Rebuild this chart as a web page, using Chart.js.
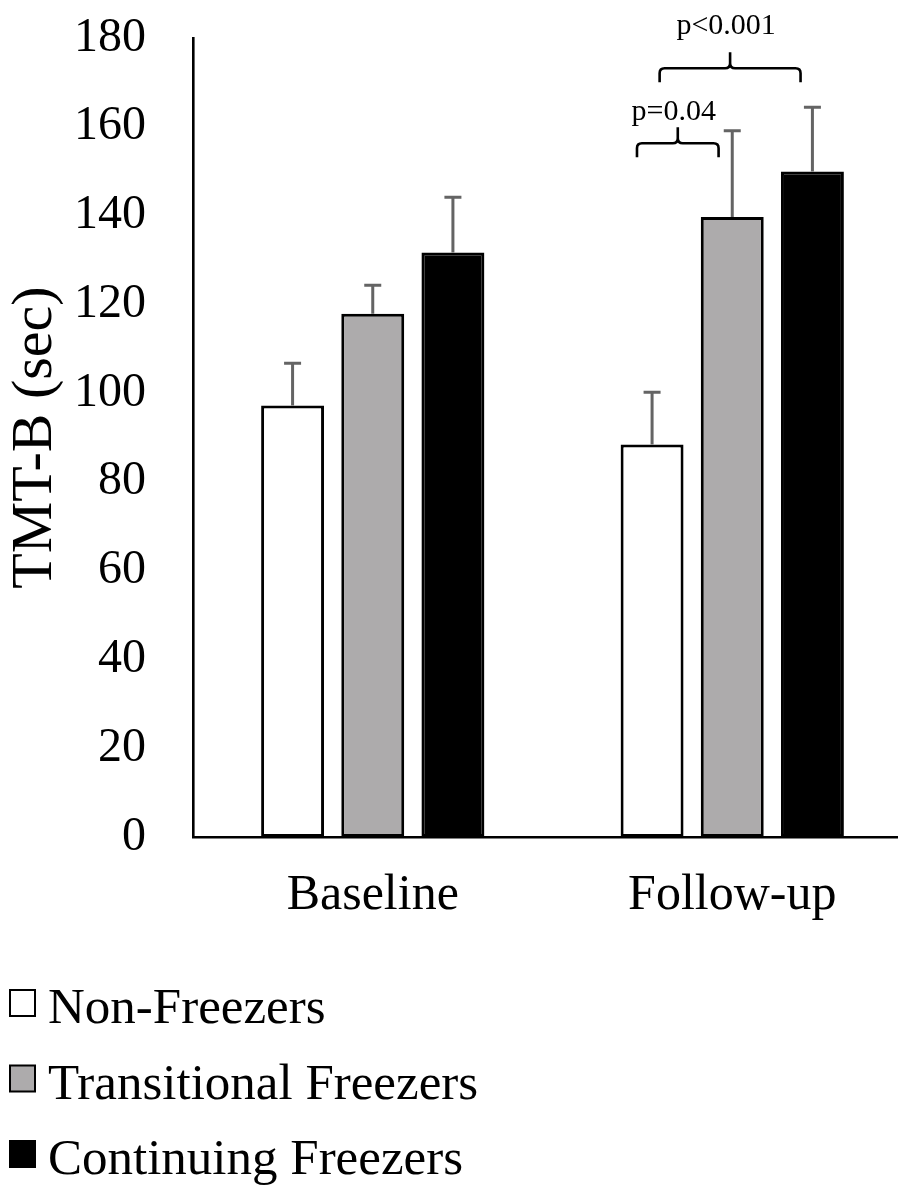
<!DOCTYPE html>
<html>
<head>
<meta charset="utf-8">
<script src="https://cdn.jsdelivr.net/npm/chart.js@4"></script>
<style>
  html, body { margin: 0; padding: 0; background: #ffffff; overflow: hidden; }
  #wrap { position: absolute; left: 0; top: 0; width: 920px; height: 1186px; }
</style>
</head>
<body>
<div id="wrap"><canvas id="c"></canvas></div>
<script>
// ---- data ----
const categories = ['Baseline', 'Follow-up'];
const seriesNames = ['Non-Freezers', 'Transitional Freezers', 'Continuing Freezers'];
const nonFreezers = [97.2, 88.4];
const transitionalFreezers = [117.9, 139.7];
const continuingFreezers = [131.7, 149.9];
const nonFreezersErr = [9.5, 11.8];
const transitionalFreezersErr = [6.4, 19.4];
const continuingFreezersErr = [12.4, 14.5];
const yTicks = [0, 20, 40, 60, 80, 100, 120, 140, 160, 180];
const yTitle = 'TMT-B (sec)';
// significance brackets: category-axis span, bracket level (sec), label
const bracketLabels = ['p=0.04', 'p<0.001'];
const bracketStart = [0.735, 0.798];
const bracketEnd = [0.962, 1.19];
const bracketLevel = [156.3, 173.2];

// ---- styles ----
const SERIF = "'Liberation Serif', 'Times New Roman', serif";
const fills = ['#ffffff', '#adabac', '#000000'];
const errs = [nonFreezersErr, transitionalFreezersErr, continuingFreezersErr];

const errorBarPlugin = {
  id: 'errorBars',
  afterDatasetsDraw(chart) {
    const ctx = chart.ctx;
    const y = chart.scales.y;
    ctx.save();
    ctx.strokeStyle = '#646464';
    ctx.lineWidth = 3;
    chart.data.datasets.forEach((ds, i) => {
      const meta = chart.getDatasetMeta(i);
      meta.data.forEach((bar, j) => {
        const v = ds.data[j];
        const e = errs[i][j];
        const yTop = y.getPixelForValue(v);
        const yE = y.getPixelForValue(v + e);
        ctx.beginPath();
        ctx.moveTo(bar.x, yTop);
        ctx.lineTo(bar.x, yE);
        ctx.moveTo(bar.x - 8.5, yE);
        ctx.lineTo(bar.x + 8.5, yE);
        ctx.stroke();
      });
    });
    ctx.restore();
  }
};

const bracketPlugin = {
  id: 'brackets',
  afterDraw(chart) {
    const ctx = chart.ctx;
    const xs = chart.scales.x, ys = chart.scales.y;
    ctx.save();
    ctx.strokeStyle = '#000';
    ctx.lineWidth = 2.6;
    ctx.lineCap = 'butt';
    for (let k = 0; k < bracketLabels.length; k++) {
      const x1 = xs.getPixelForValue(bracketStart[k]);
      const x2 = xs.getPixelForValue(bracketEnd[k]);
      const yl = ys.getPixelForValue(bracketLevel[k]);
      const xm = (x1 + x2) / 2;
      const r = 5;
      ctx.beginPath();
      ctx.moveTo(x1, yl + 14);
      ctx.lineTo(x1, yl + r);
      ctx.quadraticCurveTo(x1, yl, x1 + r, yl);
      ctx.lineTo(xm - r, yl);
      ctx.quadraticCurveTo(xm, yl, xm, yl - r);
      ctx.lineTo(xm, yl - 16);
      ctx.moveTo(xm, yl - r);
      ctx.quadraticCurveTo(xm, yl, xm + r, yl);
      ctx.lineTo(x2 - r, yl);
      ctx.quadraticCurveTo(x2, yl, x2, yl + r);
      ctx.lineTo(x2, yl + 14);
      ctx.stroke();
      ctx.fillStyle = '#000';
      ctx.font = '30px ' + SERIF;
      ctx.textAlign = 'center';
      ctx.textBaseline = 'alphabetic';
      ctx.fillText(bracketLabels[k], xm - 4, yl - (k === 0 ? 23 : 34));
    }
    ctx.restore();
  }
};

const legendPlugin = {
  id: 'stackLegend',
  afterDraw(chart) {
    const ctx = chart.ctx;
    ctx.save();
    ctx.font = '51px ' + SERIF;
    ctx.textAlign = 'left';
    ctx.textBaseline = 'alphabetic';
    const base0 = 1023, step = 75.5;
    chart.data.datasets.forEach((ds, i) => {
      const bl = base0 + i * step;
      const cy = bl - 20;
      ctx.fillStyle = ds.backgroundColor;
      ctx.fillRect(10, cy - 13, 25, 26);
      ctx.strokeStyle = '#000';
      ctx.lineWidth = 2;
      ctx.strokeRect(10, cy - 13, 25, 26);
      ctx.fillStyle = '#000';
      ctx.fillText(ds.label, 48, bl);
    });
    ctx.restore();
  }
};

const datasets = [nonFreezers, transitionalFreezers, continuingFreezers].map((d, i) => ({
  label: seriesNames[i],
  data: d,
  backgroundColor: fills[i],
  borderColor: '#000000',
  borderWidth: 3,
  borderSkipped: false,
  categoryPercentage: 0.669,
  barPercentage: 0.785
}));

new Chart(document.getElementById('c'), {
  type: 'bar',
  data: { labels: categories, datasets },
  options: {
    responsive: true,
    maintainAspectRatio: false,
    animation: false,
    events: [],
    layout: { padding: { top: 38, right: 8, bottom: 231, left: 0 } },
    plugins: { legend: { display: false }, tooltip: { enabled: false } },
    scales: {
      x: {
        grid: { display: false, drawTicks: false },
        border: { display: true, color: '#000', width: 2.6 },
        ticks: { color: '#000', padding: 29, font: { family: SERIF, size: 50 } }
      },
      y: {
        min: 0, max: 180,
        afterBuildTicks: (s) => { s.ticks = yTicks.map(v => ({ value: v })); },
        afterFit: (s) => { s.width = 193; s.paddingTop = 20; s.paddingBottom = 20; },
        grid: { display: false, drawTicks: false },
        border: { display: true, color: '#000', width: 2.6 },
        ticks: { color: '#000', padding: 47, font: { family: SERIF, size: 48 } },
        title: {
          display: true, text: yTitle, color: '#000',
          font: { family: SERIF, size: 58 },
          padding: { top: 1.2, bottom: 3.2 }
        }
      }
    }
  },
  plugins: [errorBarPlugin, bracketPlugin, legendPlugin]
});
</script>
</body>
</html>
